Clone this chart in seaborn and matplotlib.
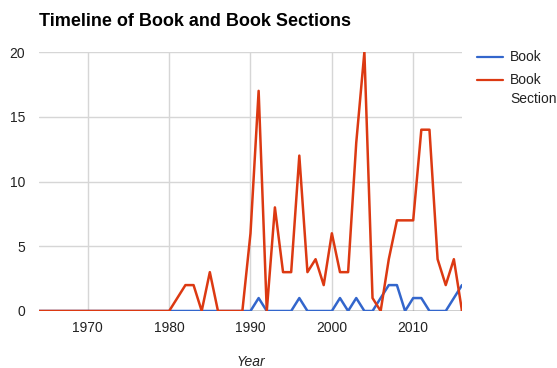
import numpy as np
import pandas as pd
import matplotlib
matplotlib.use("Agg")
import matplotlib.pyplot as plt
from matplotlib.lines import Line2D
import seaborn as sns

years = list(range(1964, 2017))

# counts per year, 1964..2016
book = [0] * 26 + [
    0, 1, 0, 0, 0, 0, 1, 0, 0, 0,   # 1990-1999
    0, 1, 0, 1, 0, 0, 1, 2, 2, 0,   # 2000-2009
    1, 1, 0, 0, 0, 1, 2,            # 2010-2016
]
book_section = [0] * 16 + [
    0, 1, 2, 2, 0, 3, 0, 0, 0, 0,   # 1980-1989
    6, 17, 0, 8, 3, 3, 12, 3, 4, 2, # 1990-1999
    6, 3, 3, 13, 20, 1, 0, 4, 7, 7, # 2000-2009
    7, 14, 14, 4, 2, 4, 0,          # 2010-2016
]

series_names = ["Book", "Book\nSection"]
series_colors = ["#3366cc", "#dc3912"]

df = pd.DataFrame({
    "Year": years * 2,
    "Count": book + book_section,
    "Type": [series_names[0]] * len(years) + [series_names[1]] * len(years),
})

sns.set_theme(style="white")
plt.rcParams["font.family"] = ["Liberation Sans", "DejaVu Sans"]

W, H = 557, 368
fig = plt.figure(figsize=(W / 100, H / 100), dpi=100)
left, right, top, bottom = 39, 462, 52, 311
ax = fig.add_axes([left / W, 1 - bottom / H, (right - left) / W, (bottom - top) / H])

sns.lineplot(data=df, x="Year", y="Count", hue="Type", palette=series_colors,
             linewidth=1.8, ax=ax, legend=False)

ax.set_xlim(1964, 2016)
ax.set_ylim(0, 20)
ax.set_xticks([1970, 1980, 1990, 2000, 2010])
ax.set_yticks([0, 5, 10, 15, 20])
ax.grid(True, color="#d6d6d6", linewidth=1)
ax.set_axisbelow(True)
for s in ax.spines.values():
    s.set_visible(False)
ax.axhline(0, color="#333333", linewidth=1, zorder=1)
ax.tick_params(axis="both", length=0, labelsize=10, colors="#222222")
ax.tick_params(axis="x", pad=7)
ax.tick_params(axis="y", pad=10)
ax.set_xlabel("")
ax.set_ylabel("")

fig.text((left + right) / 2 / W, 1 - 362 / H, "Year", style="italic", fontsize=10,
         color="#222222", ha="center", va="center")
fig.text(left / W, 1 - 21 / H, "Timeline of Book and Book Sections", fontsize=13,
         fontweight="bold", color="#000000", va="center")

# legend on the right: swatch aligned with the first line of each label
legend_rows = [57, 80]
for name, color, row in zip(series_names, series_colors, legend_rows):
    fig.add_artist(Line2D([477 / W, 503 / W], [1 - row / H, 1 - row / H],
                          transform=fig.transFigure, color=color, linewidth=1.6))
    fig.text(510 / W, 1 - (row - 7) / H, name, fontsize=10, color="#222222",
             va="top", ha="left", linespacing=1.45)

fig.savefig("out.png", dpi=100)
